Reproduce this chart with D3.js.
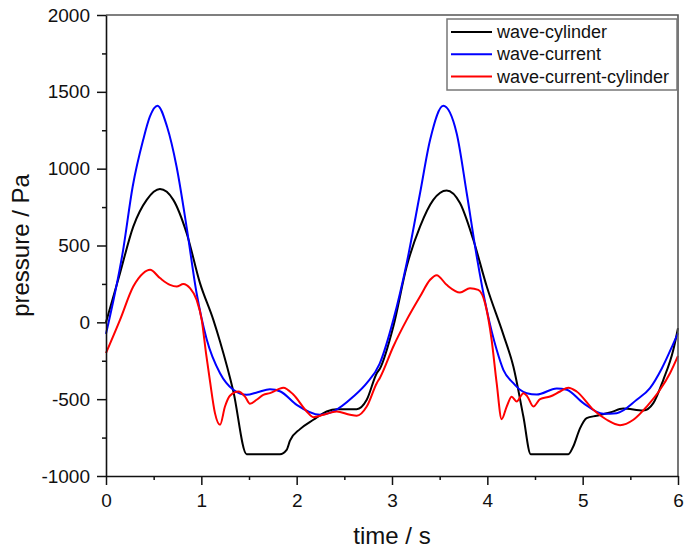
<!DOCTYPE html>
<html>
<head>
<meta charset="utf-8">
<script src="https://cdn.jsdelivr.net/npm/d3@7"></script>
<style>
  body { margin: 0; background: #fff; }
  svg text { font-family: "Liberation Sans", Arial, sans-serif; fill: #111; }
</style>
</head>
<body>
<script>
// values (time in s, pressure in Pa)
var cylT = [0, 0.147, 0.286, 0.427, 0.566, 0.706, 0.846, 0.986, 1.126, 1.196, 1.336, 1.475, 1.825, 1.895, 1.93, 2.035, 2.175, 2.315, 2.42, 2.63, 2.735, 2.84, 2.874,
            3.014, 3.154, 3.294, 3.433, 3.573, 3.713, 3.853, 3.994, 4.168, 4.273, 4.378, 4.455, 4.85, 4.9, 4.972, 5.042, 5.147, 5.287, 5.426, 5.636, 5.741, 5.846, 5.951, 6.0];
var cylP = [0, 320, 623, 797, 867, 797, 580, 255, 16, -125, -450, -858, -858, -830, -770, -695, -634, -580, -565, -565, -504, -331, -300,
            -27, 363, 623, 797, 858, 776, 537, 233, -80, -288, -613, -858, -858, -810, -690, -623, -608, -587, -561, -574, -526, -374, -179, -38];

var curT = [0, 0.18, 0.28, 0.39, 0.46, 0.54, 0.64, 0.74, 0.85, 0.95, 1.056, 1.196, 1.336, 1.475, 1.59, 1.72, 1.83, 2.0, 2.245, 2.385, 2.595, 2.735, 2.87,
            3.014, 3.154, 3.294, 3.4, 3.538, 3.678, 3.784, 3.889, 3.994, 4.098, 4.168, 4.273, 4.343, 4.413, 4.518, 4.728, 4.833, 5.007, 5.217, 5.357, 5.567, 5.706, 5.83, 5.95, 6.0];
var curP = [-75, 472, 884, 1188, 1339, 1410, 1274, 1014, 602, 191, -110, -331, -439, -472, -455, -435, -450, -537, -602, -580, -483, -396, -270,
            16, 385, 840, 1188, 1409, 1231, 840, 428, 81, -179, -309, -396, -439, -461, -470, -430, -439, -526, -595, -591, -504, -428, -300, -140, -70];

var ccT = [0, 0.147, 0.286, 0.39, 0.462, 0.566, 0.671, 0.741, 0.811, 0.881, 0.951, 1.004, 1.049, 1.09, 1.143, 1.196, 1.248, 1.3, 1.388, 1.458, 1.51, 1.58, 1.65, 1.72, 1.81, 1.86, 1.965, 2.105, 2.175, 2.28, 2.42, 2.56, 2.63, 2.735, 2.84, 2.874,
           3.014, 3.154, 3.294, 3.4, 3.468, 3.573, 3.713, 3.818, 3.905, 3.976, 4.045, 4.098, 4.15, 4.203, 4.255, 4.308, 4.378, 4.42, 4.483, 4.553, 4.658, 4.763, 4.85, 4.937, 5.112, 5.252, 5.392, 5.532, 5.672, 5.811, 5.916, 6.0];
var ccP = [-200, 16, 233, 320, 342, 288, 244, 233, 249, 222, 146, 16, -200, -380, -591, -667, -548, -478, -450, -483, -530, -504, -472, -461, -435, -425, -470, -580, -617, -602, -580, -602, -608, -548, -396, -360,
           -157, 16, 168, 277, 307, 244, 194, 222, 211, 125, -114, -396, -630, -548, -485, -515, -461, -483, -548, -500, -483, -450, -425, -450, -569, -634, -669, -634, -548, -439, -331, -218];

var seriesNames = ["wave-cylinder", "wave-current", "wave-current-cylinder"];
var seriesColors = ["#000000", "#0000ff", "#ff0000"];
var xTicks = [0, 1, 2, 3, 4, 5, 6];
var yTicks = [-1000, -500, 0, 500, 1000, 1500, 2000];

var width = 699, height = 550;
var mLeft = 106, mRight = 678, mTop = 15, mBottom = 476;

var svg = d3.select("body").append("svg")
    .attr("width", width)
    .attr("height", height);

var x = d3.scaleLinear().domain([0, 6]).range([mLeft, mRight]);
var y = d3.scaleLinear().domain([-1000, 2000]).range([mBottom, mTop]);

var series = [
  { name: seriesNames[0], color: seriesColors[0], pts: cylT.map(function (t, i) { return [t, cylP[i]]; }) },
  { name: seriesNames[1], color: seriesColors[1], pts: curT.map(function (t, i) { return [t, curP[i]]; }) },
  { name: seriesNames[2], color: seriesColors[2], pts: ccT.map(function (t, i) { return [t, ccP[i]]; }) }
];

var line = d3.line()
    .x(function (d) { return x(d[0]); })
    .y(function (d) { return y(d[1]); })
    .curve(d3.curveMonotoneX);

// curves
svg.append("g").selectAll("path")
    .data(series)
  .enter().append("path")
    .attr("d", function (d) { return line(d.pts); })
    .attr("fill", "none")
    .attr("stroke", function (d) { return d.color; })
    .attr("stroke-width", 2)
    .attr("stroke-linejoin", "round");

// top / right frame
svg.append("path")
    .attr("d", "M" + mLeft + "," + mTop + "H" + mRight + "V" + mBottom)
    .attr("fill", "none")
    .attr("stroke", "#555")
    .attr("stroke-width", 1.6);

// minor ticks
svg.append("g")
    .attr("transform", "translate(0," + mBottom + ")")
    .call(d3.axisBottom(x).tickValues(d3.range(0.5, 6, 1)).tickSize(4).tickFormat(""))
    .call(function (g) { g.select(".domain").remove(); g.selectAll("line").attr("stroke-width", 1.5).attr("stroke", "#111"); });
svg.append("g")
    .attr("transform", "translate(" + mLeft + ",0)")
    .call(d3.axisLeft(y).tickValues(d3.range(-750, 2000, 500)).tickSize(4).tickFormat(""))
    .call(function (g) { g.select(".domain").remove(); g.selectAll("line").attr("stroke-width", 1.5).attr("stroke", "#111"); });

// major axes (plain hyphen for negatives, like the original)
var plain = function (d) { return String(d); };
var xAxis = svg.append("g")
    .attr("transform", "translate(0," + mBottom + ")")
    .call(d3.axisBottom(x).tickValues(xTicks).tickFormat(plain).tickSize(9).tickPadding(9).tickSizeOuter(0));
var yAxis = svg.append("g")
    .attr("transform", "translate(" + mLeft + ",0)")
    .call(d3.axisLeft(y).tickValues(yTicks).tickFormat(plain).tickSize(9).tickPadding(7).tickSizeOuter(0));

[xAxis, yAxis].forEach(function (g) {
  g.select(".domain").attr("stroke", "#111").attr("stroke-width", 1.6);
  g.selectAll(".tick line").attr("stroke", "#111").attr("stroke-width", 1.5);
  g.selectAll(".tick text")
    .style("font-family", "Liberation Sans, Arial, sans-serif")
    .style("font-size", "19px")
    .attr("fill", "#111");
});

// axis titles
svg.append("text")
    .attr("x", (mLeft + mRight) / 2)
    .attr("y", 544)
    .attr("text-anchor", "middle")
    .style("font-size", "24px")
    .text("time / s");

svg.append("text")
    .attr("transform", "translate(29," + (mTop + mBottom) / 2 + ") rotate(-90)")
    .attr("text-anchor", "middle")
    .style("font-size", "24px")
    .text("pressure / Pa");

// legend
var legend = svg.append("g");
legend.append("rect")
    .attr("x", 447).attr("y", 19)
    .attr("width", 230).attr("height", 71)
    .attr("fill", "#fff")
    .attr("stroke", "#777")
    .attr("stroke-width", 1.5);

var item = legend.selectAll("g.item")
    .data(series)
  .enter().append("g")
    .attr("class", "item")
    .attr("transform", function (d, i) { return "translate(0," + (32 + i * 22.3) + ")"; });

item.append("line")
    .attr("x1", 451).attr("x2", 492)
    .attr("y1", 0).attr("y2", 0)
    .attr("stroke", function (d) { return d.color; })
    .attr("stroke-width", 2);

item.append("text")
    .attr("x", 497)
    .attr("y", 6)
    .style("font-size", "18px")
    .text(function (d) { return d.name; });
</script>
</body>
</html>
